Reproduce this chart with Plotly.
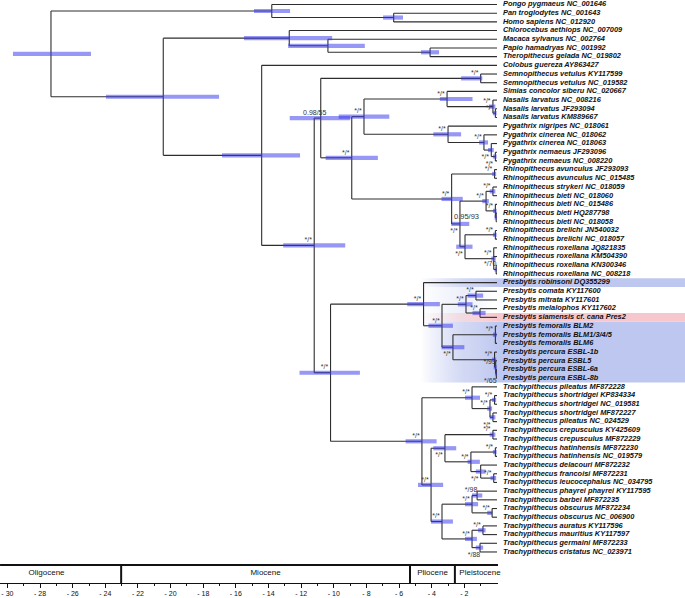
import plotly.graph_objects as go

# ---------------- data ----------------
taxa = [
    "Pongo pygmaeus NC_001646", "Pan troglodytes NC_001643", "Homo sapiens NC_012920",
    "Chlorocebus aethiops NC_007009", "Macaca sylvanus NC_002764", "Papio hamadryas NC_001992",
    "Theropithecus gelada NC_019802", "Colobus guereza AY863427",
    "Semnopithecus vetulus KY117599", "Semnopithecus vetulus NC_019582",
    "Simias concolor siberu NC_020667", "Nasalis larvatus NC_008216", "Nasalis larvatus JF293094",
    "Nasalis larvatus KM889667", "Pygathrix nigripes NC_018061", "Pygathrix cinerea NC_018062",
    "Pygathrix cinerea NC_018063", "Pygathrix nemaeus JF293096", "Pygathrix nemaeus NC_008220",
    "Rhinopithecus avunculus JF293093", "Rhinopithecus avunculus NC_015485",
    "Rhinopithecus strykeri NC_018059", "Rhinopithecus bieti NC_018060", "Rhinopithecus bieti NC_015486",
    "Rhinopithecus bieti HQ287798", "Rhinopithecus bieti NC_018058", "Rhinopithecus brelichi JN540032",
    "Rhinopithecus brelichi NC_018057", "Rhinopithecus roxellana JQ821835",
    "Rhinopithecus roxellana KM504390", "Rhinopithecus roxellana KN300346",
    "Rhinopithecus roxellana NC_008218", "Presbytis robinsoni DQ355299", "Presbytis comata KY117600",
    "Presbytis mitrata KY117601", "Presbytis melalophos KY117602", "Presbytis siamensis cf. cana Pres2",
    "Presbytis femoralis BLM2", "Presbytis femoralis BLM1/3/4/5", "Presbytis femoralis BLM6",
    "Presbytis percura ESBL-1b", "Presbytis percura ESBL5", "Presbytis percura ESBL-6a",
    "Presbytis percura ESBL-8b", "Trachypithecus pileatus MF872228", "Trachypithecus shortridgei KP834334",
    "Trachypithecus shortridgei NC_019581", "Trachypithecus shortridgei MF872227",
    "Trachypithecus pileatus NC_024529", "Trachypithecus crepusculus KY425609",
    "Trachypithecus crepusculus MF872229", "Trachypithecus hatinhensis MF872230",
    "Trachypithecus hatinhensis NC_019579", "Trachypithecus delacouri MF872232",
    "Trachypithecus francoisi MF872231", "Trachypithecus leucocephalus NC_034795",
    "Trachypithecus phayrei phayrei KY117595", "Trachypithecus barbei MF872235",
    "Trachypithecus obscurus MF872234", "Trachypithecus obscurus NC_006900",
    "Trachypithecus auratus KY117596", "Trachypithecus mauritius KY117597",
    "Trachypithecus germaini MF872233", "Trachypithecus cristatus NC_023971",
]

node_names = ["root", "hom", "panhomo", "cercopithecidae", "cercopithecinae", "macpap", "papthero",
              "colobinae", "asian", "semodd", "semno", "oddnosed", "nasp", "simnas", "nasalis", "nas2",
              "pyg", "pygA", "pygB", "pygC", "rhino", "rhav", "rhB", "rhC", "rhsb", "rhbi", "rhbi2",
              "rhD", "rhbr", "rhro", "rhro3", "pretra", "presbytis", "prA", "prB", "prcm", "prms",
              "prfp", "prfem", "prper", "prper2", "prper3", "trachy", "trA", "trA2", "trA3", "trA4",
              "trB", "trC", "trcr", "trE", "trhat", "trF", "trfl", "trD", "trG", "trpb", "trob",
              "trH", "tram", "trgc"]

node_children = [["hom", "cercopithecidae"], [0, "panhomo"], [1, 2], ["cercopithecinae", "colobinae"],
                 [3, "macpap"], [4, "papthero"], [5, 6], [7, "asian"], ["semodd", "pretra"],
                 ["semno", "oddnosed"], [8, 9], ["nasp", "rhino"], ["simnas", "pyg"], [10, "nasalis"],
                 [11, "nas2"], [12, 13], [14, "pygA"], [15, "pygB"], [16, "pygC"], [17, 18],
                 ["rhav", "rhB"], [19, 20], ["rhC", "rhD"], ["rhsb", "rhbi"], [21, 22], [23, "rhbi2"],
                 [24, 25], ["rhbr", "rhro"], [26, 27], [28, 29, "rhro3"], [30, 31],
                 ["presbytis", "trachy"], [32, "prA"], ["prB", "prfp"], ["prcm", "prms"], [33, 34],
                 [35, 36], ["prfem", "prper"], [37, 38, 39], [40, "prper2"], [41, "prper3"], [42, 43],
                 ["trA", "trB"], [44, "trA2"], ["trA3", "trA4"], [45, 46], [47, 48], ["trC", "trD"],
                 ["trcr", "trE"], [49, 50], ["trhat", "trF"], [51, 52], [53, "trfl"], [54, 55],
                 ["trG", "trH"], ["trpb", "trob"], [56, 57], [58, 59], ["tram", "trgc"], [60, 61], [62, 63]]

node_ages = [-27.33, -13.8, -6.33, -20.45, -12.73, -10.36, -4.1,
             -14.42, -11.2, -10.8, -1.0, -8.9, -8.15, -3.06, -0.25, -0.1,
             -3.0, -0.8, -0.35, -0.1, -2.78, -0.15, -2.27, -0.67, -0.25, -0.1, -0.05,
             -1.96, -0.1, -0.2, -0.05, -10.2, -4.5, -3.37, -1.9, -1.29, -1.04,
             -2.7, -0.1, -0.15, -0.08, -0.04, -4.6, -1.53, -0.43, -0.15, -0.25,
             -4.04, -3.19, -0.25, -1.6, -0.1, -1.0, -0.2, -3.37, -1.53, -1.22, -0.3,
             -1.53, -0.86, -1.04]

node_hpd_low = [-29.66, -14.89, -6.98, -23.96, -15.5, -12.8, -4.66,
                -16.85, -13.1, -12.7, -2.2, -10.5, -9.7, -3.5, -0.5, -0.25,
                -3.9, -1.1, -0.55, -0.25, -3.4, -0.3, -2.8, -0.9, -0.45, -0.25, -0.15,
                -2.5, -0.25, -0.35, -0.15, -12.1, -5.5, -4.2, -2.4, -1.8, -1.5,
                -3.4, -0.25, -0.3, -0.2, -0.1, -5.6, -1.96, -0.6, -0.3, -0.45,
                -4.84, -3.9, -0.45, -1.8, -0.25, -1.3, -0.4, -4.04, -1.96, -1.53, -0.6,
                -1.96, -1.16, -1.3]

node_hpd_high = [-24.88, -12.68, -5.76, -17.03, -10.1, -8.1, -3.55,
                 -12.07, -9.3, -9.0, -0.9, -7.3, -6.6, -1.5, -0.1, -0.02,
                 -2.2, -0.55, -0.2, -0.02, -2.1, -0.05, -1.7, -0.5, -0.1, -0.02, -0.01,
                 -1.5, -0.02, -0.08, -0.01, -8.4, -3.5, -2.7, -1.5, -0.85, -0.7,
                 -2.0, -0.02, -0.05, -0.02, -0.01, -3.7, -1.04, -0.3, -0.05, -0.1,
                 -3.3, -2.5, -0.1, -1.05, -0.02, -0.7, -0.05, -2.7, -1.16, -0.9, -0.3,
                 -1.23, -0.7, -0.85]

node_support = ["", "", "", "", "", "", "",
                "", "*/*", "0.98/55", "*/*", "*/*", "*/*", "*/*", "*/*", "*/*",
                "*/*", "*/*", "*/*", "*/*", "*/*", "*/*", "*/*", "*/*", "*/*", "*/*", "0.95/93",
                "*/*", "*/*", "*/*", "*/70", "*/*", "*/*", "*/*", "*/*", "*/*", "*/*",
                "*/*", "*/*", "*/*", "*/93", "*/65", "*/*", "*/*", "*/*", "*/*", "*/*",
                "*/*", "*/*", "*/*", "*/*", "*/*", "*/*", "*/*", "*/*", "*/*", "*/98", "*/*",
                "*/*", "*/*", "*/88"]

# highlighted tip groups (first tip, last tip)
highlight_blue = [(32, 32), (37, 43)]
highlight_pink = [(36, 36)]

epoch_names = ["Oligocene", "Miocene", "Pliocene", "Pleistocene"]
epoch_bounds = [-30.45, -23.03, -5.33, -2.58, 0.06]
epoch_label_x = [-27.6, -14.18, -3.95, -1.04]

tick_vals = list(range(-30, -1, 2))
tick_text = ["- %d" % abs(v) for v in tick_vals]

# ---------------- style / geometry ----------------
PX_PER_MA = 16.32
X0_PX = 497.0
W, H = 685, 598
ROW_PX = 8.69
ROW0_PX = 4.5
x_min = -X0_PX / PX_PER_MA
x_max = (W - X0_PX) / PX_PER_MA
y_top = -ROW0_PX / ROW_PX
y_bot = (H - ROW0_PX) / ROW_PX
FONT = "Liberation Sans, Arial, sans-serif"


def px_to_row(p):
    return (p - ROW0_PX) / ROW_PX


below = {"rhB", "rhD", "pygB", "pygC", "prfp", "prper3", "trA4", "trC", "trF", "trgc"}
left_label = {"rhbi2"}

idx = {n: i for i, n in enumerate(node_names)}


def ypos(ref):
    if isinstance(ref, int):
        return float(ref)
    ys = [ypos(c) for c in node_children[idx[ref]]]
    return (min(ys) + max(ys)) / 2.0


def xpos(ref):
    return 0.0 if isinstance(ref, int) else node_ages[idx[ref]]


fig = go.Figure()


def band(r0, r1, rgb, fade_from, fade_to):
    ya, yb = r0 - 0.5, r1 + 0.5
    fig.add_trace(go.Scatter(
        x=[fade_from, x_max, x_max, fade_from, fade_from], y=[ya, ya, yb, yb, ya],
        mode="lines", line=dict(width=0), fill="toself",
        fillgradient=dict(type="horizontal", start=fade_from, stop=fade_to,
                          colorscale=[[0, "rgba(%d,%d,%d,0)" % rgb], [1, "rgba(%d,%d,%d,1)" % rgb]]),
        hoverinfo="skip", showlegend=False))


# faint background for whole Presbytis block
fig.add_trace(go.Scatter(
    x=[-4.7, -0.2, -0.2, -4.7, -4.7], y=[31.5, 31.5, 43.5, 43.5, 31.5],
    mode="lines", line=dict(width=0), fill="toself",
    fillgradient=dict(type="horizontal", start=-4.7, stop=-0.2,
                      colorscale=[[0, "rgba(200,208,242,0)"], [0.6, "rgba(200,208,242,0.35)"],
                                  [1, "rgba(200,208,242,0)"]]),
    hoverinfo="skip", showlegend=False))
for r0, r1 in highlight_blue:
    band(r0, r1, (190, 199, 239), -4.7, 0.0)
for r0, r1 in highlight_pink:
    band(r0, r1, (246, 200, 206), -4.7, 0.0)

# branches
lx, ly = [], []
for n, ch in zip(node_names, node_children):
    a = node_ages[idx[n]]
    ys = [ypos(c) for c in ch]
    lx += [a, a, None]
    ly += [min(ys), max(ys), None]
    for c, yc in zip(ch, ys):
        lx += [a, xpos(c), None]
        ly += [yc, yc, None]
fig.add_trace(go.Scatter(x=lx, y=ly, mode="lines", line=dict(color="#2e2e2e", width=1.1),
                         hoverinfo="skip", showlegend=False))

# HPD bars
for n, lo, hi in zip(node_names, node_hpd_low, node_hpd_high):
    yy = ypos(n)
    fig.add_trace(go.Scatter(x=[lo, hi], y=[yy, yy], mode="lines",
                             line=dict(color="rgba(55,55,235,0.52)", width=4.2),
                             hoverinfo="skip", showlegend=False))

# support labels
sx, sy, st = [], [], []
lx2, ly2, lt2 = [], [], []
for n, s in zip(node_names, node_support):
    if not s:
        continue
    a = node_ages[idx[n]]
    yy = ypos(n)
    if n in left_label:
        lx2.append(a - 1.05)
        ly2.append(yy - 0.05)
        lt2.append(s)
        continue
    sx.append(a - 6.0 / PX_PER_MA)
    sy.append(yy + (7.5 if n in below else -5.0) / ROW_PX)
    st.append(s)
fig.add_trace(go.Scatter(x=sx, y=sy, text=st, mode="text",
                         textfont=dict(family=FONT, size=7, color="#333"),
                         textposition="middle center", hoverinfo="skip", showlegend=False))
fig.add_trace(go.Scatter(x=lx2, y=ly2, text=lt2, mode="text",
                         textfont=dict(family=FONT, size=7.5, color="#333"),
                         textposition="middle left", hoverinfo="skip", showlegend=False))

# tip labels
fig.add_trace(go.Scatter(x=[6.0 / PX_PER_MA] * len(taxa), y=list(range(len(taxa))),
                         text=["<b><i>%s</i></b>" % t for t in taxa], mode="text",
                         textposition="middle right",
                         textfont=dict(family=FONT, size=7.4, color="#111"),
                         hoverinfo="skip", showlegend=False))

# epoch bar
r_top = px_to_row(565)
r_axis = px_to_row(583)
r_lab = px_to_row(573)
ex = [epoch_bounds[0], epoch_bounds[-1], None]
ey = [r_top, r_top, None]
for b in epoch_bounds[1:-1]:
    ex += [b, b, None]
    ey += [r_top, r_axis, None]
fig.add_trace(go.Scatter(x=ex, y=ey, mode="lines", line=dict(color="#111", width=2),
                         hoverinfo="skip", showlegend=False))
fig.add_trace(go.Scatter(x=epoch_label_x, y=[r_lab] * 4, text=epoch_names, mode="text",
                         textposition="middle center",
                         textfont=dict(family=FONT, size=8, color="#111"),
                         hoverinfo="skip", showlegend=False))

# time axis (on its own x axis)
fig.add_trace(go.Scatter(x=[tick_vals[0]], y=[r_axis], xaxis="x2", yaxis="y", mode="markers",
                         marker=dict(opacity=0), hoverinfo="skip", showlegend=False))

fig.update_layout(
    width=W, height=H, margin=dict(l=0, r=0, t=0, b=0),
    paper_bgcolor="white", plot_bgcolor="rgba(0,0,0,0)",
    xaxis=dict(range=[x_min, x_max], visible=False, domain=[0, 1]),
    yaxis=dict(range=[y_bot, y_top], visible=False, domain=[0, 1]),
    xaxis2=dict(range=[x_min, 0.06], domain=[0, (X0_PX + 0.06 * PX_PER_MA) / W],
                anchor="free", position=1 - 583.0 / H, side="bottom",
                showline=True, linecolor="#111", linewidth=1, showgrid=False, zeroline=False,
                tickmode="array", tickvals=tick_vals, ticktext=tick_text,
                ticks="outside", ticklen=4, tickwidth=1, tickcolor="#111",
                minor=dict(ticks="outside", ticklen=2, tickwidth=1, tickcolor="#111",
                           tickmode="linear", tick0=-29, dtick=2, showgrid=False),
                tickfont=dict(family=FONT, size=7, color="#111")),
)

fig.write_html("out.html", config={"displayModeBar": False},
               post_script="document.body.style.margin='0';document.body.style.overflow='hidden';")
